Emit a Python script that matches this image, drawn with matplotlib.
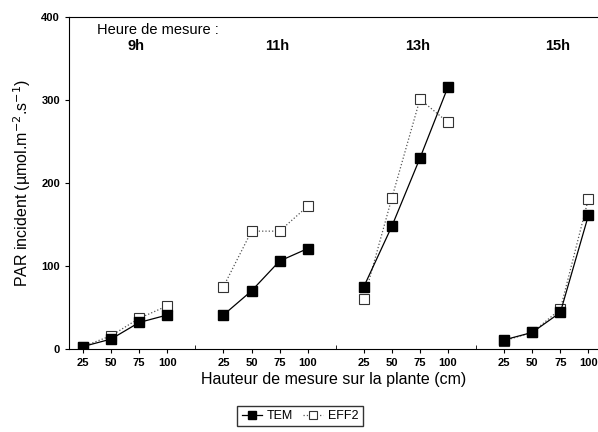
import matplotlib.pyplot as plt
import numpy as np

plt.rcParams['font.family'] = ['Liberation Sans', 'DejaVu Sans']

# heures et hauteurs de mesure
heures = ["9h", "11h", "13h", "15h"]
hauteurs = [25, 50, 75, 100]

# PAR incident (µmol.m-2.s-1), un tableau par traitement, une ligne par heure
tem = [[3, 12, 32, 41],
       [41, 70, 106, 121],
       [75, 148, 230, 316],
       [11, 20, 44, 161]]
eff2 = [[3, 16, 37, 52],
        [75, 142, 142, 172],
        [60, 182, 301, 273],
        [10, 20, 48, 181]]

fig = plt.figure(figsize=(5.98, 4.32), dpi=100)
ax = fig.add_axes([0.1154, 0.1921, 0.885, 0.7685])

step = 5  # écart entre groupes
ticks, labels = [], []
for i, h in enumerate(heures):
    x = np.arange(4) + i * step
    ax.plot(x, eff2[i], ls=':', color='#555555', lw=0.9, marker='s', ms=7.5,
            mfc='white', mec='#333333', mew=0.8, zorder=2,
            label='EFF2' if i == 0 else None)
    ax.plot(x, tem[i], ls='-', color='black', lw=0.9, marker='s', ms=7.5,
            mfc='black', mec='black', zorder=3,
            label='TEM' if i == 0 else None)
    ticks += list(x)
    labels += [str(v) for v in hauteurs]
    ax.text(i * step + 1.9, 365, h, ha='center', va='center', fontsize=10.5,
            fontweight='bold')

ax.text(0.5, 384, "Heure de mesure :", ha='left', va='center', fontsize=10.5)

ax.set_xlim(-0.5, 18.35)
ax.set_ylim(0, 400)
ax.set_xticks(ticks)
ax.set_xticklabels(labels, fontsize=8, fontweight='bold')
ax.set_xticks([4, 9, 14], minor=True)
ax.set_yticks([0, 100, 200, 300, 400])
ax.set_yticklabels(['0', '100', '200', '300', '400'], fontsize=8, fontweight='bold')
ax.tick_params(axis='both', which='major', direction='out', length=3, width=0.8)
ax.tick_params(axis='x', which='minor', direction='in', length=3)
ax.spines['right'].set_visible(False)

ax.set_xlabel("Hauteur de mesure sur la plante (cm)", fontsize=11.5, labelpad=3)
ax.set_ylabel("PAR incident (µmol.m$^{-2}$.s$^{-1}$)", fontsize=11.5, labelpad=6)

h, l = ax.get_legend_handles_labels()
fig.legend(h[::-1], l[::-1], loc='center', bbox_to_anchor=(0.502, 0.037), ncol=2,
           fontsize=9, frameon=True, fancybox=False, edgecolor='black',
           handlelength=1.6, handletextpad=0.4, columnspacing=0.8,
           borderpad=0.35, markerscale=0.7)

fig.savefig('out.png', dpi=100)
